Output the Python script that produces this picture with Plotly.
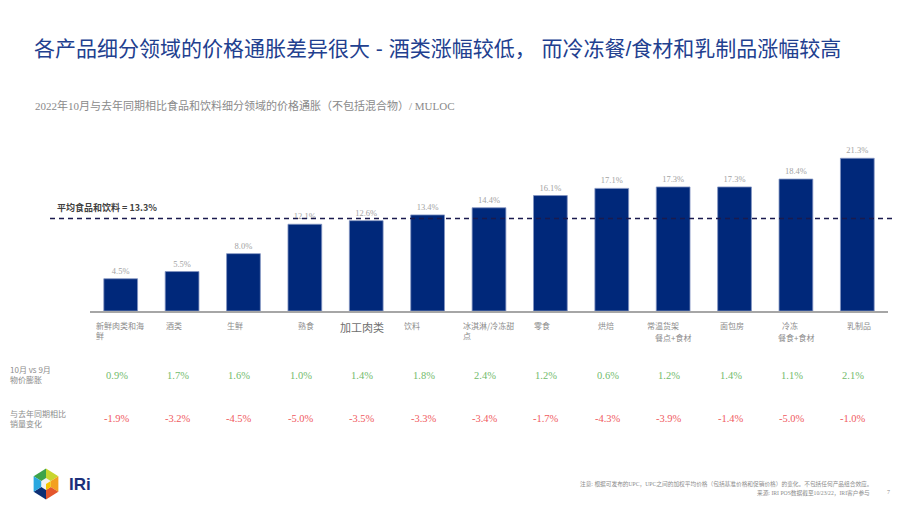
import plotly.graph_objects as go
import math

# ---------------- data ----------------
categories = ["新鲜肉类和海<br>鲜", "酒类", "生鲜", "熟食", "加工肉类", "饮料",
              "冰淇淋/冷冻甜<br>点", "零食", "烘焙", "常温货架<br>餐点+食材",
              "面包房", "冷冻<br>餐食+食材", "乳制品"]
yoy_inflation = [4.5, 5.5, 8.0, 12.1, 12.6, 13.4, 14.4, 16.1, 17.1, 17.3, 17.3, 18.4, 21.3]
mom_inflation = [0.9, 1.7, 1.6, 1.0, 1.4, 1.8, 2.4, 1.2, 0.6, 1.2, 1.4, 1.1, 2.1]
volume_change = [-1.9, -3.2, -4.5, -5.0, -3.5, -3.3, -3.4, -1.7, -4.3, -3.9, -1.4, -5.0, -1.0]
avg_line_level = 12.9   # level where the dashed average line is drawn in the picture

title_text = "各产品细分领域的价格通胀差异很大 - 酒类涨幅较低， 而冷冻餐/食材和乳制品涨幅较高"
subtitle_text = "2022年10月与去年同期相比食品和饮料细分领域的价格通胀（不包括混合物）/ MULOC"
avg_label = "平均食品和饮料 = 13.3%"
row1_label = "10月 vs 9月<br>物价膨胀"
row2_label = "与去年同期相比<br>销量变化"
note_text = "注意: 根据可发布的UPC，UPC之间的加权平均价格（包括基准价格和促销价格）的变化。不包括任何产品组合效应。"
source_text = "来源: IRI POS数据截至10/23/22，IRI客户参与"
page_no = "7"

# ---------------- layout helpers (pixels -> paper) ----------------
W, H = 920, 518
def px(x):
    return x / W
def py(y):
    return 1 - y / H

CJK = "Noto Sans CJK SC"
TITLE_FONT = "Liberation Sans, Noto Sans CJK SC"
SERIF = "Liberation Serif, Noto Sans CJK SC"
GRAY = "#8c8c8c"
NAVY = "#00287a"

label_shift = [-27, -18, -18, -9, None, -26, -28, -18, -16, -28, -17, -16, -12]

fig = go.Figure()
fig.add_trace(go.Bar(
    x=categories, y=yoy_inflation, width=0.55,
    marker=dict(color=NAVY, line=dict(color="#8394c2", width=0.8)),
    texttemplate="%{y:.1f}%", textposition="outside",
    textfont=dict(family=SERIF, size=8.5, color="#a3a3a3"),
    cliponaxis=False, showlegend=False,
))

annotations = []
annotations.append(dict(text=title_text, xref="paper", yref="paper", x=px(32), y=py(48),
                        xanchor="left", yanchor="middle", showarrow=False,
                        font=dict(family=TITLE_FONT, size=21, color="#22408f")))
annotations.append(dict(text=subtitle_text, xref="paper", yref="paper", x=px(33), y=py(105),
                        xanchor="left", yanchor="middle", showarrow=False,
                        font=dict(family=SERIF, size=11, color="#8a8a8a")))
annotations.append(dict(text="<b>" + avg_label + "</b>", xref="paper", yref="paper", x=px(55), y=py(207),
                        xanchor="left", yanchor="middle", showarrow=False,
                        font=dict(family=CJK, size=9, color="#404040")))

# category labels
for i, cat in enumerate(categories):
    parts = cat.split("<br>")
    if label_shift[i] is None:
        annotations.append(dict(text=cat, xref="x", yref="paper", x=i, y=py(326.5), xshift=-4,
                                xanchor="center", yanchor="middle", showarrow=False,
                                font=dict(family=CJK, size=11, color="#6e6e6e")))
        continue
    if len(parts) == 2 and len(parts[1]) > 2:
        annotations.append(dict(text=parts[0], xref="x", yref="paper", x=i, y=py(318), xshift=label_shift[i],
                                xanchor="left", yanchor="top", showarrow=False,
                                font=dict(family=CJK, size=8, color=GRAY)))
        annotations.append(dict(text=parts[1], xref="x", yref="paper", x=i, y=py(330), xshift=0,
                                xanchor="center", yanchor="top", showarrow=False,
                                font=dict(family=CJK, size=8, color=GRAY)))
    else:
        annotations.append(dict(text=cat, xref="x", yref="paper", x=i, y=py(318), xshift=label_shift[i],
                                xanchor="left", yanchor="top", showarrow=False, align="left",
                                font=dict(family=CJK, size=8, color=GRAY)))

# row labels
annotations.append(dict(text=row1_label, xref="paper", yref="paper", x=px(8), y=py(374),
                        xanchor="left", yanchor="middle", showarrow=False, align="left",
                        font=dict(family=CJK, size=8, color=GRAY)))
annotations.append(dict(text=row2_label, xref="paper", yref="paper", x=px(8), y=py(418),
                        xanchor="left", yanchor="middle", showarrow=False, align="left",
                        font=dict(family=CJK, size=8, color=GRAY)))

# row values
for i, v in enumerate(mom_inflation):
    annotations.append(dict(text=f"{v:.1f}%", xref="x", yref="paper", x=i, y=py(375), xshift=-4,
                            xanchor="center", yanchor="middle", showarrow=False,
                            font=dict(family=SERIF, size=10.5, color="#72bb6c")))
for i, v in enumerate(volume_change):
    annotations.append(dict(text=f"{v:.1f}%", xref="x", yref="paper", x=i, y=py(418), xshift=-4,
                            xanchor="center", yanchor="middle", showarrow=False,
                            font=dict(family=SERIF, size=10.5, color="#f05a5e")))

# footer
annotations.append(dict(text=note_text, xref="paper", yref="paper", x=px(874), y=py(484),
                        xanchor="right", yanchor="middle", showarrow=False,
                        font=dict(family=SERIF, size=5.7, color="#8c8c8c")))
annotations.append(dict(text=source_text, xref="paper", yref="paper", x=px(872), y=py(492.5),
                        xanchor="right", yanchor="middle", showarrow=False,
                        font=dict(family=SERIF, size=5.7, color="#8c8c8c")))
annotations.append(dict(text=page_no, xref="paper", yref="paper", x=px(888), y=py(491.5),
                        xanchor="center", yanchor="middle", showarrow=False,
                        font=dict(family=SERIF, size=6, color="#8c8c8c")))
annotations.append(dict(text="<b>IRi</b>", xref="paper", yref="paper", x=px(67), y=py(484),
                        xanchor="left", yanchor="middle", showarrow=False,
                        font=dict(family="Liberation Sans", size=17, color="#1b2f7a")))

shapes = []
shapes.append(dict(type="line", xref="paper", yref="y", x0=px(50), x1=px(893),
                   y0=avg_line_level, y1=avg_line_level,
                   line=dict(color="#1a1a4e", width=1.3, dash="5px,4px")))

# logo hexagon
cx, cy, R = 46, 484, 15.5
verts = []
for ang in [90, 30, -30, -90, -150, 150]:
    a = math.radians(ang)
    verts.append((cx + R * math.cos(a) * 0.92, cy - R * math.sin(a)))
top, ur, lr, bot, ll, ul = verts
tri_colors = [((ul, top), "#3ea34a"), ((top, ur), "#c8d62e"), ((ur, lr), "#f3a01f"),
              ((lr, bot), "#e4562c"), ((bot, ll), "#0d2f74"), ((ll, ul), "#2aa8e0")]
for (p1, p2), col in tri_colors:
    path = f"M {px(cx)},{py(cy)} L {px(p1[0])},{py(p1[1])} L {px(p2[0])},{py(p2[1])} Z"
    shapes.append(dict(type="path", xref="paper", yref="paper", path=path,
                       fillcolor=col, line=dict(width=0)))
r = 6
inner = []
for ang in [90, 30, -30, -90, -150, 150]:
    a = math.radians(ang)
    inner.append((cx + r * math.cos(a) * 0.92, cy - r * math.sin(a)))
path = "M " + " L ".join(f"{px(x)},{py(y)}" for x, y in inner) + " Z"
shapes.append(dict(type="path", xref="paper", yref="paper", path=path,
                   fillcolor="#f2f2f2", line=dict(width=0)))
path = (f"M {px(cx)},{py(cy)} L {px(inner[3][0])},{py(inner[3][1])} "
        f"L {px(inner[2][0])},{py(inner[2][1])} L {px(inner[1][0])},{py(inner[1][1])} Z")
shapes.append(dict(type="path", xref="paper", yref="paper", path=path,
                   fillcolor="#f5c400", line=dict(width=0)))

y_top_px = 131.75
fig.update_layout(
    width=W, height=H,
    margin=dict(l=0, r=0, t=0, b=0),
    paper_bgcolor="white", plot_bgcolor="white",
    xaxis=dict(domain=[px(90), px(888)], range=[-0.5, 12.5], showticklabels=False,
               showgrid=False, zeroline=False, showline=True, linecolor="#a6a6a6",
               linewidth=1.5, ticks="", fixedrange=True),
    yaxis=dict(domain=[py(311), py(y_top_px)], range=[0, 25], visible=False,
               showgrid=False, zeroline=False, fixedrange=True),
    annotations=annotations,
    shapes=shapes,
    showlegend=False,
)

fig.write_html("out.html")
